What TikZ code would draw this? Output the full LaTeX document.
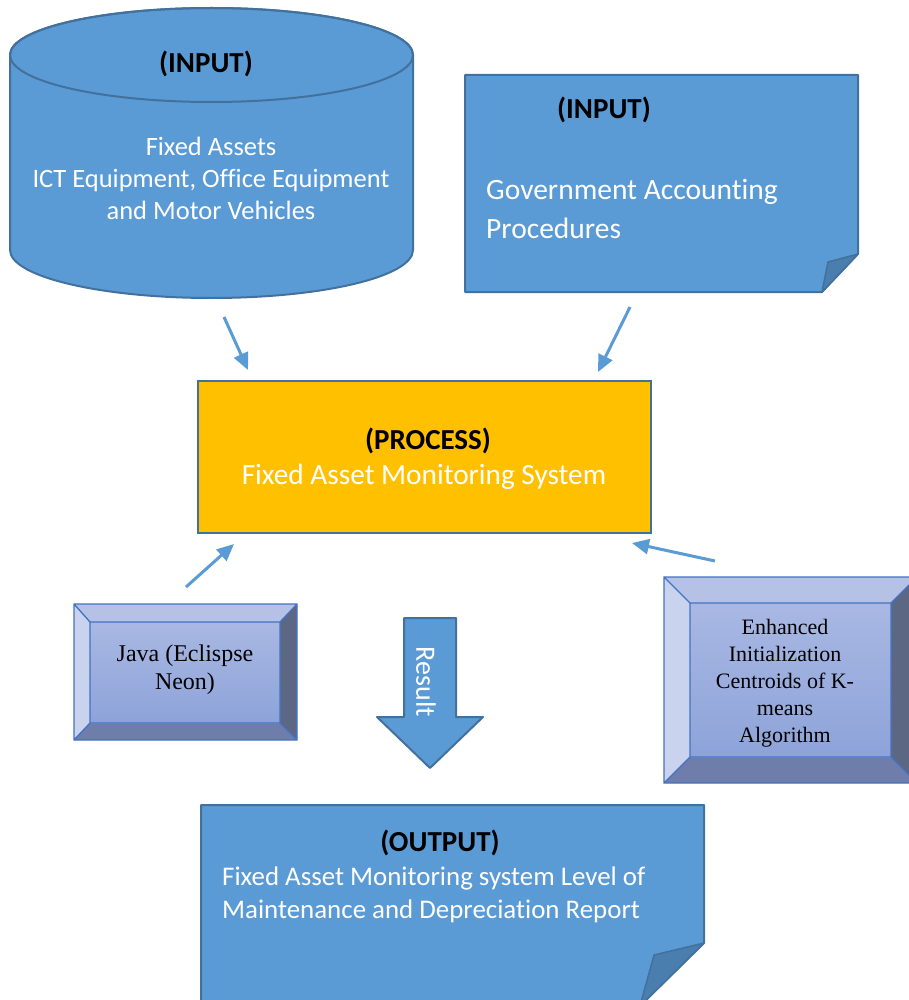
\documentclass[tikz,border=0pt]{standalone}
\usepackage{fontspec}
\newfontfamily\calib[Ligatures=NoCommon]{Carlito}
\newfontfamily\tnr{Liberation Serif}
\usetikzlibrary{arrows.meta}
\definecolor{fillblue}{HTML}{5B9BD5}
\definecolor{edgeblue}{HTML}{41719C}
\definecolor{foldblue}{HTML}{4A7EAF}
\definecolor{procfill}{HTML}{FFC000}
\definecolor{bvedge}{HTML}{4472C4}
\definecolor{bvtop}{HTML}{B5C2E6}
\definecolor{bvleft}{HTML}{C9D3EE}
\definecolor{bvright}{HTML}{5C6783}
\definecolor{bvbottom}{HTML}{6E7DA9}
\definecolor{bvin1}{HTML}{A9B8E3}
\definecolor{bvin2}{HTML}{8DA3D9}
\newcommand\bevbox[8]{%
  \fill[bvtop] (#1,#2)--(#3,#2)--(#7,#6)--(#5,#6)--cycle;
  \fill[bvleft] (#1,#2)--(#5,#6)--(#5,#8)--(#1,#4)--cycle;
  \fill[bvright] (#3,#2)--(#3,#4)--(#7,#8)--(#7,#6)--cycle;
  \fill[bvbottom] (#1,#4)--(#5,#8)--(#7,#8)--(#3,#4)--cycle;
  \shade[top color=bvin1,bottom color=bvin2] (#5,#6) rectangle (#7,#8);
  \draw[bvedge,line width=1.3pt] (#1,#2) rectangle (#3,#4) (#5,#6) rectangle (#7,#8)
    (#1,#2)--(#5,#6) (#3,#2)--(#7,#6) (#1,#4)--(#5,#8) (#3,#4)--(#7,#8);
}
\tikzset{
  blueshape/.style={fill=fillblue,draw=edgeblue,line width=2pt,line join=round},
  foldshape/.style={fill=foldblue,draw=edgeblue,line width=1.5pt,line join=round},
  conn/.style={draw=fillblue,line width=3pt,-{Triangle[length=17pt,width=15pt]}},
  head/.style={font=\calib\bfseries\fontsize{29}{35}\selectfont,text=black,inner sep=0pt},
  wtext/.style={font=\calib\fontsize{26.5}{32}\selectfont,text=white,inner sep=0pt},
  serift/.style={font=\tnr\fontsize{22}{27}\selectfont,text=black,inner sep=0pt,align=center}
}
\begin{document}
\begin{tikzpicture}[x=1pt,y=1pt]
\useasboundingbox (0,0) rectangle (909,-1000);
% cylinder
\path[blueshape] (10,-55) -- (10,-250) arc[start angle=180,end angle=360,x radius=201.5,y radius=48]
  -- (413,-55) arc[start angle=0,end angle=180,x radius=201.5,y radius=47] -- cycle;
\draw[edgeblue,line width=2pt] (211.5,-55) ellipse [x radius=201.5,y radius=47];
\node[head] (in1h) at (206,-64) {(INPUT)};
\node[wtext,align=center] (in1t) at (211,-178) {Fixed Assets\\ICT Equipment, Office Equipment\\and Motor Vehicles};
% document input
\path[blueshape] (465,-75) -- (858,-75) -- (858,-254) -- (822,-292) -- (465,-292) -- cycle;
\path[foldshape] (858,-254) -- (828,-262) -- (822,-292) -- cycle;
\node[head] (in2h) at (604,-110) {(INPUT)};
\node[wtext,font=\calib\fontsize{29.5}{39}\selectfont,align=left,anchor=west] (in2t) at (486,-209) {Government Accounting\\Procedures};
% process
\draw[fill=procfill,draw=edgeblue,line width=2.5pt] (198,-381) rectangle (651,-533);
\node[head] (proch) at (428,-441) {(PROCESS)};
\node[wtext,font=\calib\fontsize{29.3}{35}\selectfont] (proct) at (424,-477) {Fixed Asset Monitoring System};
% bevel boxes
\bevbox{74}{-604}{297}{-740}{90}{-622}{280}{-723}
\node[serift,font=\tnr\fontsize{24}{28}\selectfont] (java) at (185,-670) {Java (Eclispse\\Neon)};
\bevbox{664}{-577}{917}{-783}{690}{-603}{891}{-757}
\node[serift] (kmeans) at (785,-683) {Enhanced\\Initialization\\Centroids of K-\\means\\Algorithm};
% result arrow
\path[blueshape] (404,-618)--(456,-618)--(456,-717)--(483,-717)--(430,-768)--(377,-717)--(404,-717)--cycle;
\node[wtext,font=\calib\fontsize{28}{34}\selectfont,rotate=-90] (res) at (426,-682) {Result};
% output document
\path[blueshape] (201,-805) -- (704,-805) -- (704,-943) -- (640,-1006) -- (201,-1006) -- cycle;
\path[foldshape] (704,-943) -- (654,-955) -- (640,-1006) -- cycle;
\node[head] (outh) at (440,-843) {(OUTPUT)};
\node[wtext,font=\calib\fontsize{26.9}{33}\selectfont,align=left,anchor=west] (outt) at (222,-895) {Fixed Asset Monitoring system Level of\\Maintenance and Depreciation Report};
% connectors
\coordinate (a1s) at (224,-317); \coordinate (a1e) at (248,-370);
\coordinate (a2s) at (630,-307); \coordinate (a2e) at (598,-372);
\coordinate (a3s) at (186,-587); \coordinate (a3e) at (234,-544);
\coordinate (a4s) at (715,-561); \coordinate (a4e) at (632,-543);
\draw[conn] (a1s) -- (a1e);
\draw[conn] (a2s) -- (a2e);
\draw[conn] (a3s) -- (a3e);
\draw[conn] (a4s) -- (a4e);
\end{tikzpicture}
\end{document}
